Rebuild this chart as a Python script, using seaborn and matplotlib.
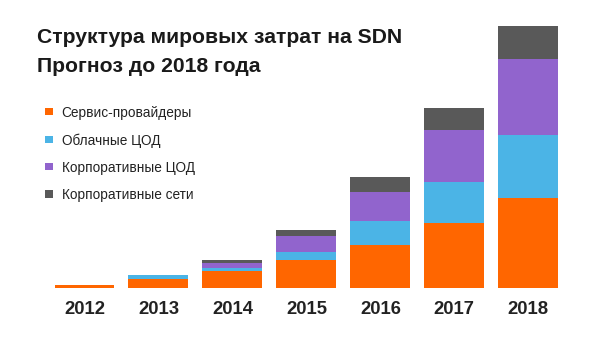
import numpy as np
import pandas as pd
import matplotlib
matplotlib.use("Agg")
import matplotlib.pyplot as plt
from matplotlib.patches import Rectangle
import seaborn as sns

# Spending on SDN by segment (relative units)
years = ["2012", "2013", "2014", "2015", "2016", "2017", "2018"]
service_providers = [3.5, 9.5, 17, 28, 43, 65, 90]
cloud_dc = [0, 4, 2.7, 8, 24, 41, 63]
enterprise_dc = [0, 0, 5, 16, 29, 52, 76]
enterprise_net = [0, 0, 3.7, 6.5, 15, 22, 33]

segments = ["Сервис-провайдеры", "Облачные ЦОД", "Корпоративные ЦОД", "Корпоративные сети"]
colors = ["#FF6600", "#4BB4E6", "#9164CD", "#595959"]
title_lines = ["Структура мировых затрат на SDN", "Прогноз до 2018 года"]

sns.set_theme(style="white")
plt.rcParams["font.family"] = ["Liberation Sans", "DejaVu Sans"]

W, H = 601, 341
fig = plt.figure(figsize=(W / 100, H / 100), dpi=100)
ax = fig.add_axes([47.5 / W, 53 / H, 517.8 / W, 268 / H])

layers = np.array([service_providers, cloud_dc, enterprise_dc, enterprise_net])
cum = np.cumsum(layers, axis=0)

# draw cumulative totals from the top segment down so each layer shows its own band
for i in range(len(segments) - 1, -1, -1):
    df = pd.DataFrame({"year": years, "value": cum[i]})
    sns.barplot(data=df, x="year", y="value", color=colors[i], saturation=1,
                width=0.81, linewidth=0, ax=ax)

ax.set_xlim(-0.5, 6.5)
ax.set_ylim(0, 268)
ax.set_xlabel("")
ax.set_ylabel("")
ax.set_yticks([])
for s in ax.spines.values():
    s.set_visible(False)
ax.tick_params(axis="x", length=0, pad=9.5, labelsize=13.3, colors="#222222")
for lbl in ax.get_xticklabels():
    lbl.set_fontweight("bold")

# two-line heading
for text, base in zip(title_lines, [43.3, 71.7]):
    fig.text(37 / W, 1 - base / H, text, fontsize=15.2, fontweight="bold",
             color="#1a1a1a", va="baseline", ha="left")

# legend: square swatch followed by segment name
row_centers = [111.7, 139.3, 166.7, 194.0]
for name, c, yc in zip(segments, colors, row_centers):
    fig.add_artist(Rectangle((45 / W, 1 - (yc + 3.7) / H), 7.5 / W, 7.5 / H,
                             transform=fig.transFigure, facecolor=c, edgecolor="none"))
    fig.text(61.7 / W, 1 - (yc + 5.3) / H, name, fontsize=9.8, color="#222222",
             va="baseline", ha="left")

fig.savefig("out.png", dpi=100)
